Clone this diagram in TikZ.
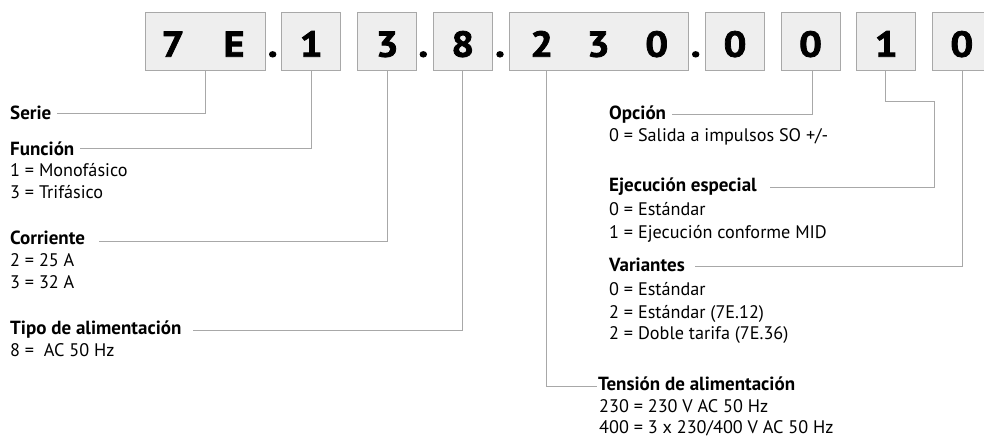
\documentclass[tikz,border=0pt]{standalone}
\usepackage{fontspec}
\setmainfont{PT Sans}
\newfontfamily\digfont{PT Sans}[BoldFeatures={FakeBold=2.2,FakeStretch=1.12}]
\definecolor{boxfill}{HTML}{EEEEEE}
\definecolor{boxline}{HTML}{A8A8A8}
\definecolor{connline}{HTML}{A8A8A8}
\begin{document}
\begin{tikzpicture}[x=1pt,y=-1pt,
  box/.style={draw=boxline, fill=boxfill, line width=1pt, inner sep=0pt, minimum height=58.4pt},
  dig/.style={font=\digfont\fontsize{36}{40}\selectfont\bfseries, inner sep=0pt, anchor=base},
  conn/.style={draw=connline, line width=1pt},
  head/.style={font=\fontsize{19}{22}\selectfont\bfseries, inner sep=0pt, anchor=base west},
  txt/.style={font=\fontsize{18.2}{21}\selectfont, inner sep=0pt, anchor=base west}]
\useasboundingbox (0,0) rectangle (984,445);
\clip (0,0) rectangle (984,445);
% boxes
\node[box, minimum width=120pt] (b1) at (205,41.5) {};
\node[box, minimum width=59pt] (b2) at (311.2,41.5) {};
\node[box, minimum width=59pt] (b3) at (387.2,41.5) {};
\node[box, minimum width=59pt] (b4) at (462.8,41.5) {};
\node[box, minimum width=179.3pt] (b5) at (598.65,41.5) {};
\node[box, minimum width=58.6pt] (b6) at (735,41.5) {};
\node[box, minimum width=59pt] (b7) at (810.5,41.5) {};
\node[box, minimum width=59pt] (b8) at (886.2,41.5) {};
\node[box, minimum width=59pt] (b9) at (961.8,41.5) {};
% digits
\node[dig] (d1a) at (173,56.7) {7};
\node[dig] (d1b) at (234,56.7) {E};
\node[dig] (p1) at (272.7,56.7) {.};
\node[dig] (d2) at (311.2,56.7) {1};
\node[dig] (d3) at (387.2,56.7) {3};
\node[dig] (p2) at (423.3,56.7) {.};
\node[dig] (d4) at (462.8,56.7) {8};
\node[dig] (p3) at (500,56.7) {.};
\node[dig] (d5a) at (541.7,56.7) {2};
\node[dig] (d5b) at (598.3,56.7) {3};
\node[dig] (d5c) at (656.7,56.7) {0};
\node[dig] (p4) at (695.7,56.7) {.};
\node[dig] (d6) at (735,56.7) {0};
\node[dig] (d7) at (810.5,56.7) {0};
\node[dig] (d8) at (886.2,56.7) {1};
\node[dig] (d9) at (961.8,56.7) {0};
% left texts
\node[head] (serie) at (10,119.5) {Serie};
\node[head] (funcion) at (10,155) {Función};
\node[txt] (f1) at (10,176.7) {1 = Monofásico};
\node[txt] (f3) at (10,198.3) {3 = Trifásico};
\node[head] (corriente) at (10,244) {Corriente};
\node[txt] (c2) at (10,266.5) {2 = 25 A};
\node[txt] (c3) at (10,288) {3 = 32 A};
\node[head] (tipo) at (10,334.5) {Tipo de alimentación};
\node[txt] (t8) at (10,356) {8 =\ \ AC 50 Hz};
% right texts
\node[head] (opcion) at (609,119.3) {Opción};
\node[txt] (o0) at (609,141.7) {0 = Salida a impulsos SO +/-};
\node[head] (ejec) at (609,191.7) {Ejecución especial};
\node[txt] (e0) at (609,215) {0 = Estándar};
\node[txt] (e1) at (609,238.3) {1 = Ejecución conforme MID};
\node[head] (variantes) at (609,271.7) {Variantes};
\node[txt] (v0) at (609,295) {0 = Estándar};
\node[txt] (v2) at (609,318.3) {2 = Estándar (7E.12)};
\node[txt] (v3) at (609,339.5) {2 = Doble tarifa (7E.36)};
\node[head] (tension) at (598,390.7) {Tensión de alimentación};
\node[txt] (t230) at (599,412.7) {230 = 230 V AC 50 Hz};
\node[txt] (t400) at (599,433.5) {400 = 3 x 230/400 V AC 50 Hz};
% connector ends
\coordinate (serieR) at (57,113);
\coordinate (funcionR) at (80,148.3);
\coordinate (corrienteR) at (99,241.7);
\coordinate (tipoR) at (193,330.5);
\coordinate (tensionL) at (596.7,386);
\coordinate (opcionR) at (671.7,114);
\coordinate (ejecK) at (934.3,101.7);
\coordinate (ejecR) at (770,187.3);
\coordinate (variantesR) at (695,266.7);
% connectors
\draw[conn] (b1.south) |- (serieR);
\draw[conn] (b2.south) |- (funcionR);
\draw[conn] (b3.south) |- (corrienteR);
\draw[conn] ([xshift=-0.5pt]b4.south) |- (tipoR);
\draw[conn] ([xshift=37.7pt]b5.south west) |- (tensionL);
\draw[conn] ([xshift=2.2pt]b7.south) |- (opcionR);
\draw[conn] ([xshift=-0.5pt]b8.south) |- (ejecK) |- (ejecR);
\draw[conn] ([xshift=1pt]b9.south) |- (variantesR);
\end{tikzpicture}
\end{document}
